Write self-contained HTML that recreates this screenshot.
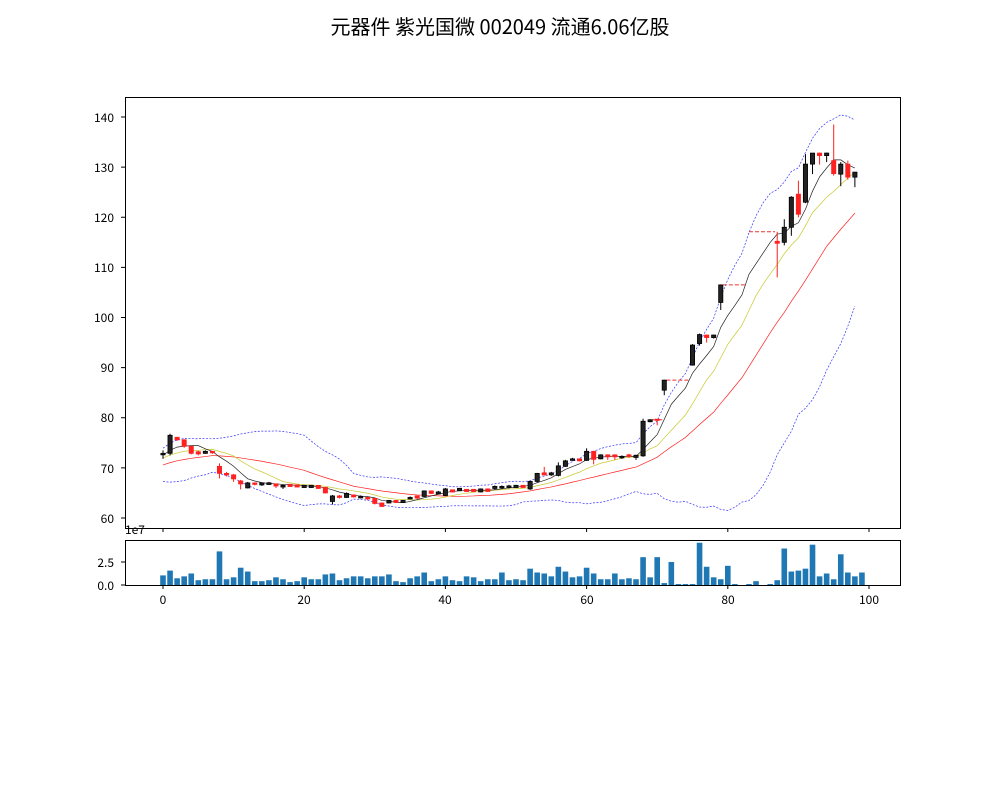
<!DOCTYPE html>
<html><head><meta charset="utf-8"><style>
body{margin:0;background:#fff;}
svg text{font-family:"WenQuanYi Zen Hei","Noto Sans CJK SC",sans-serif;}
</style></head><body>
<svg id="s" width="1000" height="800" xmlns="http://www.w3.org/2000/svg">
<rect width="1000" height="800" fill="#fff"/>
<text x="500" y="34" font-size="20" text-anchor="middle">元器件 紫光国微 002049 流通6.06亿股</text>
<g id="plot"></g>
<rect x="125.5" y="97.5" width="775" height="431" fill="none" stroke="#000" stroke-width="1"/>
<rect x="125.5" y="540.5" width="775" height="45" fill="none" stroke="#000" stroke-width="1"/>
<g font-size="12" text-anchor="end">
<text x="114" y="122">140</text><text x="114" y="172">130</text><text x="114" y="222">120</text>
<text x="114" y="272">110</text><text x="114" y="322">100</text><text x="114" y="372">90</text>
<text x="114" y="422">80</text><text x="114" y="473">70</text><text x="114" y="523">60</text>
<text x="114" y="567">2.5</text><text x="114" y="590">0.0</text>
</g>
<text x="125" y="534" font-size="12">1e7</text>
<g font-size="12" text-anchor="middle">
<text x="163" y="604">0</text><text x="304" y="604">20</text><text x="445" y="604">40</text>
<text x="587" y="604">60</text><text x="728" y="604">80</text><text x="869" y="604">100</text>
</g>
<g id="ticks" stroke="#000" stroke-width="1"></g>
</svg>
<script>
var D=[[72.6,72.9,73.5,71.8,'k'],[72.9,76.5,76.8,72.5,'k'],[76.1,75.6,76.2,75.4,'r'],[75.6,74.3,75.7,74.0,'r'],[74.3,72.9,74.4,72.7,'r'],[73.1,72.9,73.4,72.5,'r'],[72.9,73.3,73.5,72.8,'k'],[73.3,73.0,73.4,72.8,'r'],[70.3,68.9,70.9,67.9,'r'],[68.9,68.6,69.2,68.3,'r'],
[68.6,67.8,68.8,67.2,'r'],[67.4,66.8,67.6,65.7,'r'],[66.0,67.0,67.2,65.9,'k'],[67.0,66.7,67.1,66.5,'r'],[66.6,67.0,67.1,66.4,'k'],[66.8,66.9,67.2,66.6,'k'],[66.7,66.5,66.9,66.0,'r'],[66.3,66.4,66.7,65.8,'k'],[66.6,66.4,66.7,66.2,'r'],[66.5,66.3,66.6,66.1,'r'],
[66.2,66.4,66.6,66.0,'k'],[66.2,66.4,66.6,66.0,'k'],[66.5,65.9,66.6,65.8,'r'],[66.1,65.0,66.2,64.9,'r'],[63.3,64.4,64.6,62.7,'k'],[64.4,64.1,64.6,63.9,'r'],[64.1,64.9,65.1,64.0,'k'],[64.6,64.2,64.7,64.1,'r'],[64.0,64.3,64.5,63.9,'k'],[64.1,63.8,64.2,63.6,'r'],
[63.9,62.9,64.0,62.7,'r'],[63.0,62.3,63.1,62.2,'r'],[63.0,63.5,63.6,62.9,'k'],[63.5,63.1,63.6,63.0,'r'],[63.1,63.5,63.6,63.0,'k'],[63.8,64.1,64.3,63.7,'k'],[64.3,64.1,64.5,63.8,'r'],[64.3,65.4,65.5,64.2,'k'],[65.4,64.9,65.5,64.8,'r'],[64.8,65.2,65.4,64.7,'k'],
[64.5,65.8,66.0,64.4,'k'],[65.5,65.3,65.6,65.1,'r'],[65.6,65.8,65.9,65.5,'k'],[65.6,65.4,65.7,65.2,'r'],[65.6,65.4,65.7,65.2,'r'],[65.2,65.8,65.9,65.1,'k'],[65.8,65.3,65.9,65.2,'r'],[65.9,66.3,66.5,65.7,'k'],[66.0,66.3,66.5,65.8,'k'],[66.1,66.4,66.6,65.9,'k'],
[66.2,66.4,66.6,66.0,'k'],[66.4,66.2,66.5,66.1,'r'],[65.8,67.3,67.4,65.6,'k'],[67.3,68.9,69.0,67.1,'k'],[68.9,68.7,70.2,68.6,'r'],[68.6,69.0,69.2,68.4,'k'],[68.5,70.4,71.1,68.3,'k'],[70.3,71.4,71.6,70.2,'k'],[71.5,71.8,72.0,71.4,'k'],[71.8,71.4,71.9,71.3,'r'],
[71.5,73.3,73.9,71.4,'k'],[73.3,71.7,73.4,70.7,'r'],[71.8,72.6,72.7,71.7,'k'],[72.6,72.2,72.7,71.6,'r'],[72.6,72.2,72.7,71.6,'r'],[72.0,72.3,72.5,71.8,'k'],[72.6,72.3,72.8,72.0,'r'],[72.2,72.4,72.6,71.6,'k'],[72.4,79.3,79.8,72.2,'k'],[79.2,79.6,79.7,79.1,'k'],
[79.6,79.6,79.6,78.5,'r'],[85.5,87.5,87.6,84.5,'k'],[87.5,87.5,87.5,87.5,'f'],[87.5,87.5,87.5,87.5,'f'],[87.5,87.5,87.5,87.5,'f'],[90.5,94.5,94.7,90.4,'k'],[94.8,96.6,96.8,94.4,'k'],[96.5,96.0,96.6,95.0,'r'],[96.0,96.5,96.6,95.8,'k'],[103.0,106.5,106.6,101.5,'k'],
[106.5,106.5,106.5,106.5,'f'],[106.5,106.5,106.5,106.5,'f'],[106.5,106.5,106.5,106.5,'f'],[117.1,117.1,117.1,117.1,'f'],[117.1,117.1,117.1,117.1,'f'],[117.1,117.1,117.1,117.1,'f'],[117.1,117.1,117.1,117.1,'f'],[115.2,114.8,117.1,108.0,'r'],[115.0,118.0,119.6,114.4,'k'],[118.0,124.0,124.2,116.3,'k'],
[124.6,120.6,127.3,120.0,'r'],[123.0,130.6,132.6,122.8,'k'],[130.6,132.8,132.8,128.6,'k'],[132.8,132.3,132.9,130.5,'r'],[132.3,132.8,132.9,131.0,'k'],[131.3,128.7,138.5,128.3,'r'],[128.6,130.6,131.0,126.2,'k'],[130.6,128.0,131.3,127.5,'r'],[128.0,129.0,129.0,126.0,'k']];
var VZ=[165,150,174,168,159,180,177,177,90,177,171,141,153,183,183,180,171,177,186,183,171,177,177,162,159,180,174,168,168,174,168,168,162,183,186,174,168,156,183,177,168,180,183,168,171,183,177,177,156,180,177,180,144,156,159,168,138,153,171,168,141,159,177,177,159,177,174,177,108,171,108,189,123,192,192,192,63,138,171,177,135,192,195,192,183,195,192,180,81,153,150,144,69,168,159,177,99,156,168,156];
function X(i){return 163+7.06*i;}
function Y(v){return 518-(v-60)*5.0125;}
var h='';
for(var i=0;i<VZ.length;i++){var hh=(195-VZ[i])/3*0.96;h+='<rect x="'+(X(i)-2.8).toFixed(2)+'" y="'+(585-hh).toFixed(2)+'" width="5.6" height="'+hh.toFixed(2)+'" fill="#1f77b4"/>';}
var C=[];for(var k=0;k<19;k++)C.push(68+5*k/18+(k%3-1)*0.6);
for(var i=0;i<D.length;i++)C.push(D[i][1]);
var P=19;
function ma(n,i){var s=0;for(var j=i-n+1;j<=i;j++)s+=C[Math.max(0,j)];return s/n;}
var l5=[],l10=[],l20=[],up=[],dn=[];
for(var i=0;i<D.length;i++){var ii=i+P;l5.push(ma(5,ii));l10.push(ma(10,ii));var m=ma(20,ii);l20.push(m);var v=0;for(var j=ii-19;j<=ii;j++)v+=(C[j]-m)*(C[j]-m);var sd=Math.sqrt(v/20);up.push(m+2*sd);dn.push(m-2*sd);}
function pl(a,c,w,d){var p=a.map(function(v,i){return X(i).toFixed(2)+','+Y(v).toFixed(2);}).join(' ');return '<polyline points="'+p+'" fill="none" stroke="'+c+'" stroke-width="'+w+'"'+(d?' stroke-dasharray="'+d+'"':'')+'/>';}
h+=pl(up,'#3333ff',0.7,'2,1.5')+pl(dn,'#3333ff',0.7,'2,1.5')+pl(l20,'#ff2020',0.7)+pl(l10,'#c8c830',0.7)+pl(l5,'#222',0.7);
var segs=[[69,71,79.6],[71,74.7,87.5],[79,82.7,106.5],[82.7,86.7,117.1]];
segs.forEach(function(s){h+='<line x1="'+X(s[0]+0.3)+'" x2="'+X(s[1])+'" y1="'+Y(s[2])+'" y2="'+Y(s[2])+'" stroke="#ee3333" stroke-width="1" stroke-dasharray="4,2"/>';});
for(var i=0;i<D.length;i++){var d=D[i];if(d[4]=='f')continue;var col=d[4]=='k'?'#222':'#ff2020';var ec=d[4]=='k'?'#000':'#ff2020';
h+='<line x1="'+X(i)+'" x2="'+X(i)+'" y1="'+Y(d[2])+'" y2="'+Y(d[3])+'" stroke="'+ec+'" stroke-width="1"/>';
var t=Y(Math.max(d[0],d[1])),b=Y(Math.min(d[0],d[1]));if(b-t<1.2){t-=0.6;b+=0.6;}
h+='<rect x="'+(X(i)-2.1).toFixed(2)+'" y="'+t.toFixed(2)+'" width="4.2" height="'+(b-t).toFixed(2)+'" fill="'+col+'" stroke="'+ec+'" stroke-width="0.8"/>';}
document.getElementById('plot').innerHTML=h;
var t='';
[0,20,40,60,80,100].forEach(function(v){var x=X(v);t+='<line x1="'+x+'" x2="'+x+'" y1="528" y2="532"/><line x1="'+x+'" x2="'+x+'" y1="585" y2="589"/>';});
[60,70,80,90,100,110,120,130,140].forEach(function(v){t+='<line x1="121" x2="125" y1="'+Y(v)+'" y2="'+Y(v)+'"/>';});
t+='<line x1="121" x2="125" y1="585" y2="585"/><line x1="121" x2="125" y1="562" y2="562"/>';
document.getElementById('ticks').innerHTML=t;
</script>
</body></html>
